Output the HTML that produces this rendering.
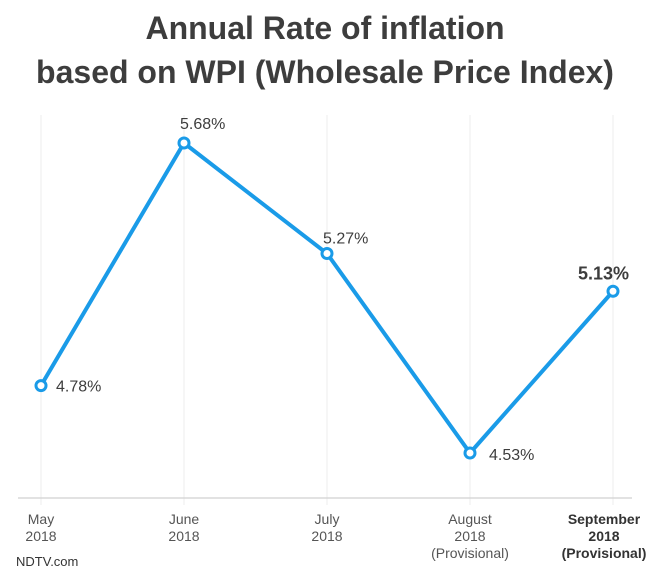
<!DOCTYPE html>
<html><head><meta charset="utf-8"><style>
body{margin:0;background:#fff;font-family:"Liberation Sans",sans-serif;}
#c{position:relative;width:650px;height:585px;overflow:hidden;}
h1{position:absolute;top:6px;left:0;width:650px;margin:0;text-align:center;font-size:32px;line-height:44px;font-weight:bold;color:#3d3d3d;}
</style></head><body>
<div id="c">
<h1>Annual Rate of inflation<br>based on WPI (Wholesale Price Index)</h1>
<svg id="s" width="650" height="585" style="position:absolute;left:0;top:0"></svg>
</div>
<script>
const months=["May","June","July","August","September"];
const sub1=["2018","2018","2018","2018","2018"];
const sub2=["","","","(Provisional)","(Provisional)"];
const values=[4.78,5.68,5.27,4.53,5.13];
const labels=["4.78%","5.68%","5.27%","4.53%","5.13%"];
const NS="http://www.w3.org/2000/svg";
const s=document.getElementById('s');
function x(i){return 41+i*143;}
function y(v){return 453-(v-4.53)*(310/1.15);}
function mk(t,a,p){const e=document.createElementNS(NS,t);for(const k in a)e.setAttribute(k,a[k]);(p||s).appendChild(e);return e;}
values.forEach((v,i)=>{
  const g=mk('line',{x1:x(i),x2:x(i),y1:115,y2:505,stroke:'#ececec','stroke-width':1});
  
  
});
const b=mk('line',{x1:18,x2:632,y1:498,y2:498,stroke:'#d8d8d8','stroke-width':1.5});


const pl=mk('polyline',{points:values.map((v,i)=>x(i)+','+y(v)).join(' '),fill:'none',stroke:'#1a9be8','stroke-width':4,'stroke-linejoin':'miter'});


const off=[[15,6,'start'],[-4,-14,'start'],[-4,-10,'start'],[19,7,'start'],[-35,-12,'start']];
values.forEach((v,i)=>{
  const c=mk('circle',{cx:x(i),cy:y(v),r:5,fill:'#fff',stroke:'#1a9be8','stroke-width':3});
  
  
  const last=i===4;
  const t=mk('text',{x:x(i)+off[i][0],y:y(v)+off[i][1],'text-anchor':off[i][2],'font-size':last?18:16,'font-weight':last?'bold':'normal',fill:'#3d3d3d'});
  t.textContent=labels[i];
  
  
  const lines=[months[i],sub1[i],sub2[i]];
  lines.forEach((L,j)=>{if(!L)return;
    const tt=mk('text',{x:x(i)-(last?9:0),y:524+j*17,'text-anchor':'middle','font-size':14,'font-weight':last?'bold':'normal',fill:last?'#333':'#555'});
    tt.textContent=L;
    
    
  });
});
const n=mk('text',{x:16,y:566,'font-size':13,fill:'#333'});
n.textContent='NDTV.com';


</script>
</body></html>
